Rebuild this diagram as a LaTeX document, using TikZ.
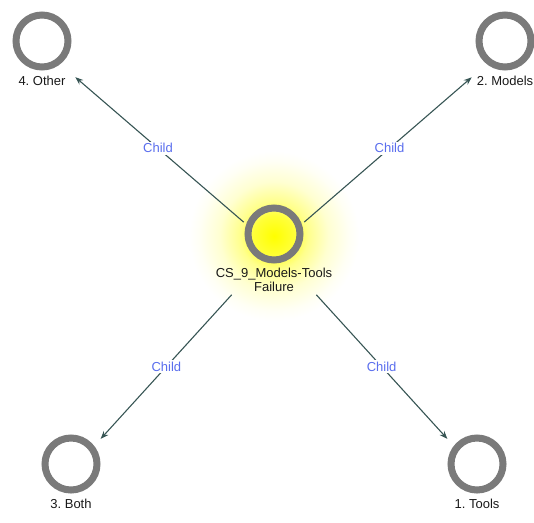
\documentclass[tikz,border=0pt]{standalone}
\usepackage{fontspec}
\setmainfont{Liberation Sans}
\usetikzlibrary{arrows.meta,positioning,fit}
\frenchspacing
\definecolor{ringgray}{RGB}{122,122,122}
\definecolor{edgeteal}{RGB}{55,85,84}
\definecolor{childblue}{RGB}{90,110,238}
\pgfdeclareradialshading{glow}{\pgfpoint{0bp}{0bp}}{color(0bp)=(yellow);color(6bp)=(yellow!78);color(10bp)=(yellow!45);color(16bp)=(yellow!18);color(22bp)=(yellow!4);color(25bp)=(white);color(50bp)=(white)}
\begin{document}
\begin{tikzpicture}[x=1pt,y=-1pt,>={Stealth[length=8pt,width=6pt]},
	ring/.style={circle,draw=ringgray,line width=7pt,minimum size=52pt,inner sep=0pt},
	caption/.style={font=\fontsize{13}{14.5}\selectfont,align=center,inner sep=0pt,text=black!90},
	group/.style={inner sep=0pt},
	child/.style={font=\fontsize{13}{14.5}\selectfont,text=childblue,fill=white,inner sep=1.5pt},
	edge/.style={->,draw=edgeteal,line width=1.1pt,shorten >=44pt}]
	\useasboundingbox (0,0) rectangle (534,522);
	% yellow glow round the root
	\shade[shading=glow] (274,236) circle (85pt);
	% root and its four children
	\node[ring] (root) at (274,234) {};
	\node[caption,below=4pt of root] (rootname) {CS\_9\_Models-Tools\\Failure};
	\node[ring] (other) at (42,41) {};
	\node[caption,below=5pt of other] (othername) {4. Other};
	\node[ring] (models) at (505,41) {};
	\node[caption,below=5pt of models] (modelsname) {2. Models};
	\node[ring] (both) at (71,464) {};
	\node[caption,below=5pt of both] (bothname) {3. Both};
	\node[ring] (tools) at (477,464) {};
	\node[caption,below=5pt of tools] (toolsname) {1. Tools};
	% ring and caption taken together
	\node[group,fit=(root)(rootname)] (rootgroup) {};
	\node[group,fit=(other)(othername)] (othergroup) {};
	\node[group,fit=(models)(modelsname)] (modelsgroup) {};
	\node[group,fit=(both)(bothname)] (bothgroup) {};
	\node[group,fit=(tools)(toolsname)] (toolsgroup) {};
	% child edges
	\draw[edge,shorten <=40pt] (rootgroup.center) -- node[child,pos=0.5]{Child} (othergroup.center);
	\draw[edge,shorten <=40pt] (rootgroup.center) -- node[child,pos=0.5]{Child} (modelsgroup.center);
	\draw[edge,shorten <=63pt] (rootgroup.center) -- node[child,pos=0.53]{Child} (bothgroup.center);
	\draw[edge,shorten <=63pt] (rootgroup.center) -- node[child,pos=0.53]{Child} (toolsgroup.center);
\end{tikzpicture}
\end{document}
